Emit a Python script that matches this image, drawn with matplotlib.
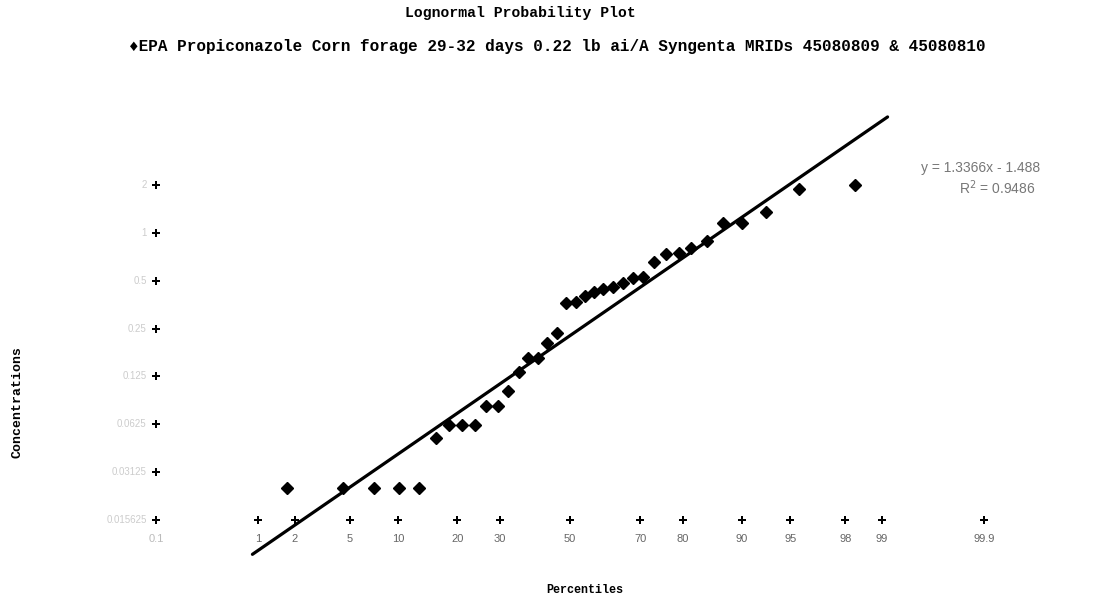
import numpy as np
import matplotlib.pyplot as plt

z_scores = [-2.110, -1.692, -1.461, -1.274, -1.127, -1.000, -0.903, -0.803, -0.707,
            -0.627, -0.540, -0.460, -0.378, -0.311, -0.237, -0.174, -0.099, -0.030,
            0.045, 0.112, 0.181, 0.249, 0.323, 0.393, 0.468, 0.547, 0.625, 0.714,
            0.813, 0.903, 1.020, 1.140, 1.286, 1.463, 1.709, 2.127]
conc = [0.025, 0.025, 0.025, 0.025, 0.025, 0.051, 0.062, 0.062, 0.062,
        0.082, 0.082, 0.102, 0.134, 0.163, 0.163, 0.204, 0.236, 0.361,
        0.369, 0.402, 0.423, 0.444, 0.455, 0.482, 0.518, 0.526, 0.653, 0.736,
        0.744, 0.807, 0.893, 1.16, 1.16, 1.359, 1.881, 2.002]

# Regression line from the chart
slope = 1.3366
intercept = -1.488
r2 = 0.9486

# Percentile axis (drawn as a series of crosses, Excel style)
pct_labels = ['0.1', '1', '2', '5', '10', '20', '30', '50', '70', '80', '90', '95', '98', '99', '99.9']
pct_z = [-3.090, -2.326, -2.054, -1.645, -1.282, -0.842, -0.524, 0.0,
         0.524, 0.842, 1.282, 1.645, 2.054, 2.326, 3.090]

# Concentration axis (ln scale, doubling steps)
conc_ticks = [2, 1, 0.5, 0.25, 0.125, 0.0625, 0.03125, 0.015625]
conc_labels = ['2', '1', '0.5', '0.25', '0.125', '0.0625', '0.03125', '0.015625']

W, H = 1098, 599
fig = plt.figure(figsize=(W / 100, H / 100), dpi=100)
ax = fig.add_axes([0, 0, 1, 1])
ax.axis('off')

# pixel mapping: x_px = 570 + 134 z ; y_px = 232.9 - 69.04 ln(c)
ax.set_xlim(-570 / 134, (W - 570) / 134)
ax.set_ylim((232.9 - H) / 69.04, 232.9 / 69.04)

mono = ['Liberation Mono', 'DejaVu Sans Mono']

# fitted line
zl = np.array([-2.37, 2.37])
ax.plot(zl, slope * zl + intercept, color='black', lw=2.3, solid_capstyle='round', zorder=2)

# data points
ax.plot(z_scores, np.log(conc), linestyle='none', marker='D', ms=6.2,
        color='black', zorder=3)

# fake x axis: crosses at bottom concentration tick
y_base = np.log(conc_ticks[-1])
ax.plot(pct_z, [y_base] * len(pct_z), linestyle='none', marker='P', ms=5.5,
        color='black', mew=0)
for lab, z in zip(pct_labels, pct_z):
    ax.text(z, y_base - 0.27, lab, ha='center', va='center', fontsize=8,
            color='#bbbbbb' if lab == '0.1' else '#666666', family='Liberation Sans')

# fake y axis: crosses at 0.1 percentile
ax.plot([pct_z[0]] * len(conc_ticks), np.log(conc_ticks), linestyle='none',
        marker='P', ms=5.5, color='black', mew=0)
for lab, c in zip(conc_labels, conc_ticks):
    ax.text(pct_z[0] - 0.07, np.log(c), lab, ha='right', va='center', fontsize=7,
            color='#cccccc', family='Liberation Sans')

# regression equation
ax.text(3.51, 0.94, 'y = %.4fx - %.3f' % (slope, intercept * -1), ha='right', va='center',
        fontsize=10, color='#777777', family='Liberation Sans')
ax.text(3.47, 0.66, 'R$^2$ = %.4f' % r2, ha='right', va='center',
        fontsize=10, color='#777777', family='Liberation Sans')

# titles
fig.text(520 / W, 1 - 13 / H, 'Lognormal Probability Plot', ha='center', va='center',
         fontsize=10.6, fontweight='bold', family=mono)
fig.text(557 / W, 1 - 46 / H,
         '\u2666EPA Propiconazole Corn forage 29-32 days 0.22 lb ai/A Syngenta MRIDs 45080809 & 45080810',
         ha='center', va='center', fontsize=11.5, fontweight='bold', family=mono)
fig.text(585 / W, 1 - 590 / H, 'Percentiles', ha='center', va='center',
         fontsize=8.5, fontweight='bold', family=mono)
fig.text(18 / W, 1 - 402 / H, 'Concentrations', ha='center', va='center', rotation=90,
         fontsize=9.5, fontweight='bold', family=mono)

plt.savefig('out.png', dpi=100)
